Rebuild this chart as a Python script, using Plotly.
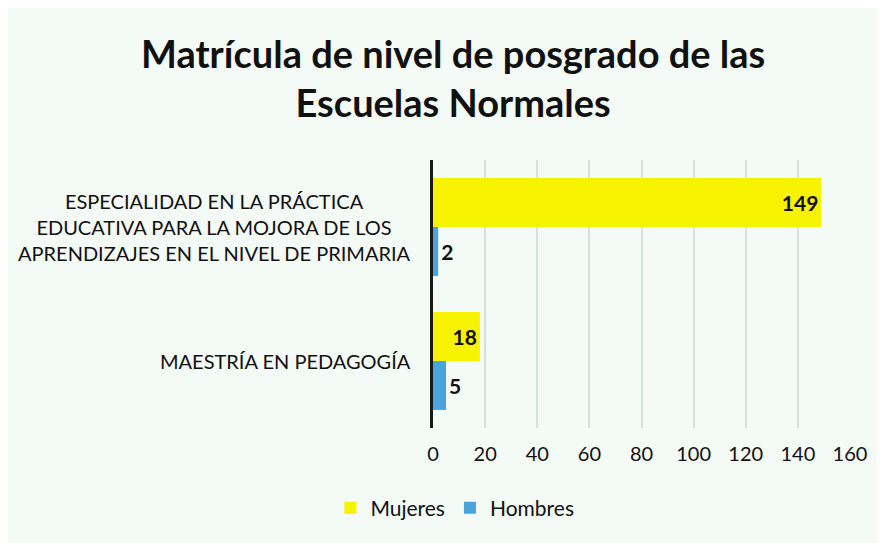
import plotly.graph_objects as go

categories = [
    "ESPECIALIDAD EN LA PRÁCTICA<br>EDUCATIVA PARA LA MOJORA DE LOS<br>APRENDIZAJES EN EL NIVEL DE PRIMARIA",
    "MAESTRÍA EN PEDAGOGÍA",
]
mujeres = [149, 18]
hombres = [2, 5]
x_ticks = [0, 20, 40, 60, 80, 100, 120, 140, 160]

FONT = "Lato, 'Open Sans', sans-serif"

fig = go.Figure()
fig.add_trace(go.Bar(
    name="Mujeres", y=categories, x=mujeres, orientation="h",
    marker=dict(color="#f7f200", line=dict(width=0)),
    text=[str(v) for v in mujeres], textposition="inside", insidetextanchor="end",
    textfont=dict(family=FONT, size=21, color="#111111", weight="bold"),
    cliponaxis=False,
))
fig.add_trace(go.Bar(
    name="Hombres", y=categories, x=hombres, orientation="h",
    marker=dict(color="#4ba3db", line=dict(width=0)),
    text=[str(v) for v in hombres], textposition="outside",
    textfont=dict(family=FONT, size=21, color="#111111", weight="bold"),
    cliponaxis=False,
))

for c in categories:
    fig.add_annotation(
        x=0, xref="paper", xanchor="right", xshift=-20,
        y=c, yref="y", yanchor="middle",
        text=c, showarrow=False, align="center",
        font=dict(family=FONT, size=20, color="#111111"),
    )

fig.update_layout(
    width=885, height=543,
    paper_bgcolor="#f4faf5", plot_bgcolor="#f4faf5",
    margin=dict(l=425, r=43, t=152, b=123),
    barmode="group", bargap=0.27, bargroupgap=0,
    title=dict(
        text="<b>Matrícula de nivel de posgrado de las<br>Escuelas Normales</b>",
        x=0.503, xanchor="center", xref="container",
        y=1 - 60 / 543, yanchor="top",
        font=dict(family=FONT, size=38, color="#111111"),
    ),
    showlegend=True,
    legend=dict(
        orientation="h", xref="container", x=0.505, xanchor="center",
        yref="container", y=1 - 500 / 543, yanchor="middle",
        font=dict(family=FONT, size=21, color="#111111"),
        traceorder="normal", itemwidth=30,
    ),
    xaxis=dict(
        range=[0, 160], tickvals=x_ticks, ticktext=[str(t) for t in x_ticks],
        showgrid=True, gridcolor="#d5e2db", gridwidth=1.5,
        zeroline=False, showline=False,
        tickfont=dict(family=FONT, size=20, color="#111111"),
        ticks="", ticklabelstandoff=12,
    ),
    yaxis=dict(
        autorange="reversed", showticklabels=False, ticks="",
        showline=True, linecolor="#1a1a1a", linewidth=3,
        showgrid=False, zeroline=False,
    ),
)

fig.write_html("out.html")
